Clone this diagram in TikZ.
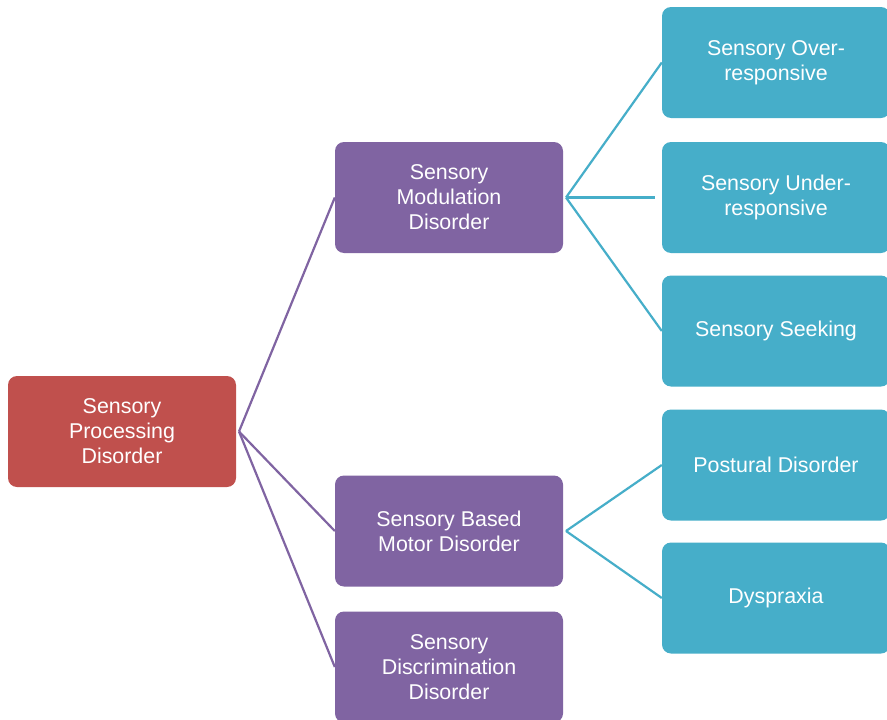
\documentclass[tikz,border=0pt]{standalone}
\usepackage{fontspec}
\setmainfont{Liberation Sans}
\definecolor{spdred}{HTML}{C0504D}
\definecolor{spdpurple}{HTML}{8064A2}
\definecolor{spdblue}{HTML}{46AEC9}
\begin{document}
\begin{tikzpicture}[x=1pt,y=-1pt,
  box/.style={rounded corners=9pt, minimum width=228pt, inner sep=0pt, text=white, align=center,
    font=\fontsize{21.4}{25}\selectfont},
  redbox/.style={box, fill=spdred, minimum height=111pt},
  purplebox/.style={box, fill=spdpurple, minimum height=111pt},
  bluebox/.style={box, fill=spdblue, minimum height=111pt},
  plink/.style={draw=spdpurple, line width=2.2pt},
  blink/.style={draw=spdblue, line width=2.2pt}]
\clip (0,0) rectangle (887,720);
\fill[white] (0,0) rectangle (887,720);
\node[redbox] (spd) at (122,431.5) {Sensory\\Processing\\Disorder};
\node[purplebox] (smd) at (449,197.5) {Sensory\\Modulation\\Disorder};
\node[purplebox] (sbmd) at (449,531) {Sensory Based\\Motor Disorder};
\node[purplebox] (sdd) at (449,667) {Sensory\\Discrimination\\Disorder};
\node[bluebox] (over) at (776,62.5) {Sensory Over-\\responsive};
\node[bluebox] (under) at (776,197.5) {Sensory Under-\\responsive};
\node[bluebox] (seek) at (776,331) {Sensory Seeking};
\node[bluebox] (post) at (776,465) {Postural Disorder};
\node[bluebox] (dys) at (776,598) {Dyspraxia};
\coordinate (spdout) at (239,431.5);
\coordinate (smdout) at (566,197.5);
\coordinate (sbmdout) at (566,531);
\coordinate (underin) at (655,197.5);
\draw[plink] (spdout) -- (smd.west);
\draw[plink] (spdout) -- (sbmd.west);
\draw[plink] (spdout) -- (sdd.west);
\draw[blink] (smdout) -- (over.west);
\draw[blink] (smdout) -- (underin);
\draw[blink] (smdout) -- (seek.west);
\draw[blink] (sbmdout) -- (post.west);
\draw[blink] (sbmdout) -- (dys.west);
\end{tikzpicture}
\end{document}
